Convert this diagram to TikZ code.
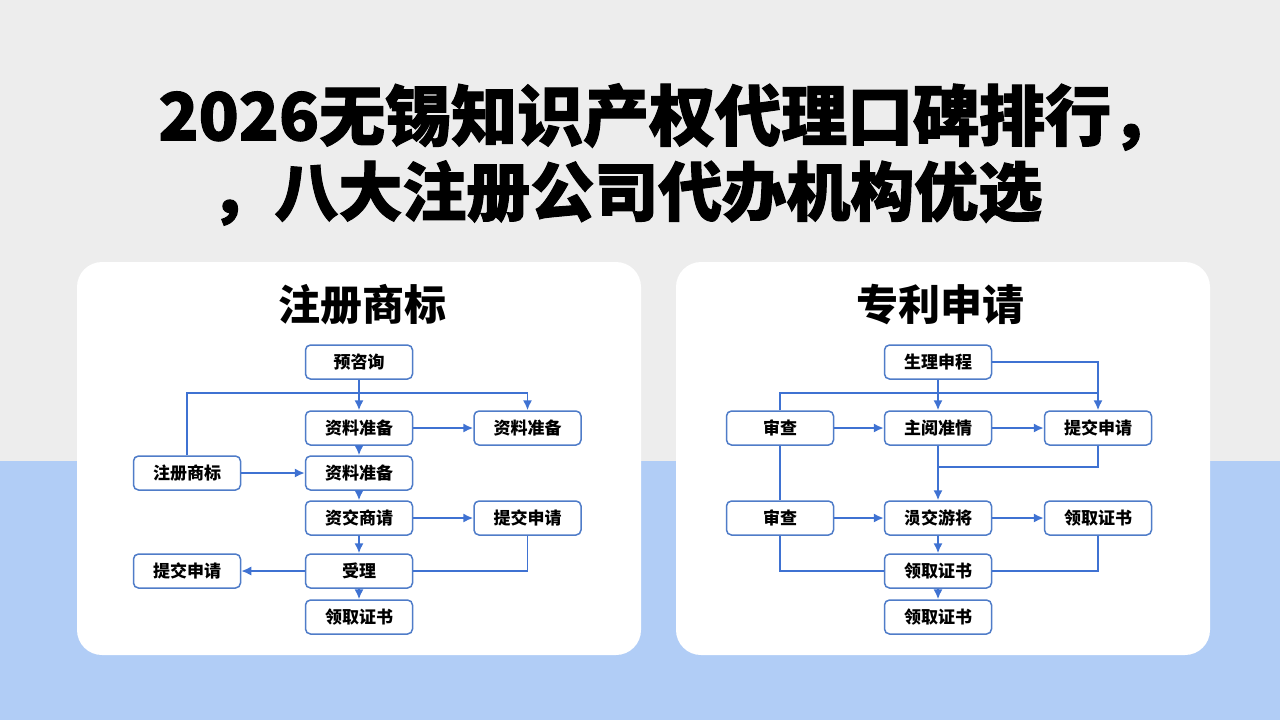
\documentclass[tikz,border=0pt]{standalone}
\usepackage{fontspec}
\newfontfamily\cjk{Noto Sans CJK SC}
\newfontfamily\cjkh{Noto Sans CJK SC}[BoldFeatures={FakeBold=1.6}]
\usetikzlibrary{arrows.meta}
\definecolor{bggray}{HTML}{EDEDED}
\definecolor{bgblue}{HTML}{B1CDF6}
\definecolor{lineblue}{HTML}{3F72D2}
\definecolor{boxblue}{HTML}{4F7CC8}
\tikzset{
  box/.style={draw=boxblue, line width=0.75pt, fill=white, rounded corners=2.5pt,
    minimum width=53.5pt, minimum height=17pt, inner sep=0pt,
    font=\cjk\bfseries\fontsize{8.5pt}{9pt}\selectfont, text=black},
  conn/.style={draw=lineblue, line width=0.9pt},
  arr/.style={conn, -{Latex[length=5pt,width=4.6pt]}},
  panel/.style={fill=white, rounded corners=12.5pt},
  ptitle/.style={font=\cjk\bfseries\fontsize{21pt}{24pt}\selectfont, text=black},
  mtitle/.style={font=\cjkh\bfseries\fontsize{33pt}{38pt}\selectfont, text=black, anchor=west, inner sep=0pt},
  mtitleb/.style={mtitle, font=\cjkh\bfseries\fontsize{32pt}{37pt}\selectfont}
}
\begin{document}
\begin{tikzpicture}[x=0.5pt,y=-0.5pt]
\useasboundingbox (0,0) rectangle (1280,720);
\fill[bggray] (0,0) rectangle (1280,720);
\fill[bgblue] (0,461) rectangle (1280,720);
% panels
\fill[panel] (77,262) rectangle (641,655);
\fill[panel] (676,262) rectangle (1210,655);
% titles
\node[mtitle] (t1) at (158,117) {2026无锡知识产权代理口碑排行，};
\node[mtitleb] (t2) at (210,193) {，八大注册公司代办机构优选};
\node[ptitle] (p1) at (362,305) {注册商标};
\node[ptitle] (p2) at (940,305) {专利申请};
% left flow
\node[box] (a1) at (359,362) {预咨询};
\node[box] (a2) at (359,428) {资料准备};
\node[box] (a3) at (527.5,428) {资料准备};
\node[box] (a4) at (187,473) {注册商标};
\node[box] (a5) at (359,473) {资料准备};
\node[box] (a6) at (359,518) {资交商请};
\node[box] (a7) at (527.5,518) {提交申请};
\node[box] (a8) at (359,571) {受理};
\node[box] (a9) at (187,571) {提交申请};
\node[box] (a10) at (359,617) {领取证书};
\coordinate (ja) at (359,393);
\draw[arr] (a1) -- (a2);
\draw[arr] (a4.north) -- (a4.north |- ja) -| (a3.north);
\draw[arr] (a2) -- (a3);
\draw[arr] (a2) -- (a5);
\draw[arr] (a4) -- (a5);
\draw[arr] (a5) -- (a6);
\draw[arr] (a6) -- (a7);
\draw[arr] (a6) -- (a8);
\draw[arr] (a8) -- (a9);
\draw[conn] (a7.south) |- (a8.east);
\draw[arr] (a8) -- (a10);
% right flow
\node[box] (b1) at (938,362) {生理申程};
\node[box] (b2) at (780,428) {审查};
\node[box] (b3) at (938,428) {主阅准情};
\node[box] (b4) at (1098,428) {提交申请};
\node[box] (b5) at (780,518) {审查};
\node[box] (b6) at (938,518) {涢交游将};
\node[box] (b7) at (1098,518) {领取证书};
\node[box] (b8) at (938,571) {领取证书};
\node[box] (b9) at (938,617) {领取证书};
\coordinate (jb) at (938,393);
\coordinate (jc) at (938,467);
\draw[arr] (b1.east) -| (b4.north);
\draw[conn] (b2.north) |- (b4.north |- jb);
\draw[arr] (b1) -- (b3);
\draw[arr] (b2) -- (b3);
\draw[arr] (b3) -- (b4);
\draw[conn] (b2) -- (b5);
\draw[arr] (b3) -- (b6);
\draw[conn] (b4.south) |- (jc);
\draw[arr] (b5) -- (b6);
\draw[arr] (b6) -- (b7);
\draw[arr] (b6) -- (b8);
\draw[conn] (b5.south) |- (b8.west);
\draw[conn] (b7.south) |- (b8.east);
\draw[arr] (b8) -- (b9);
\end{tikzpicture}
\end{document}
